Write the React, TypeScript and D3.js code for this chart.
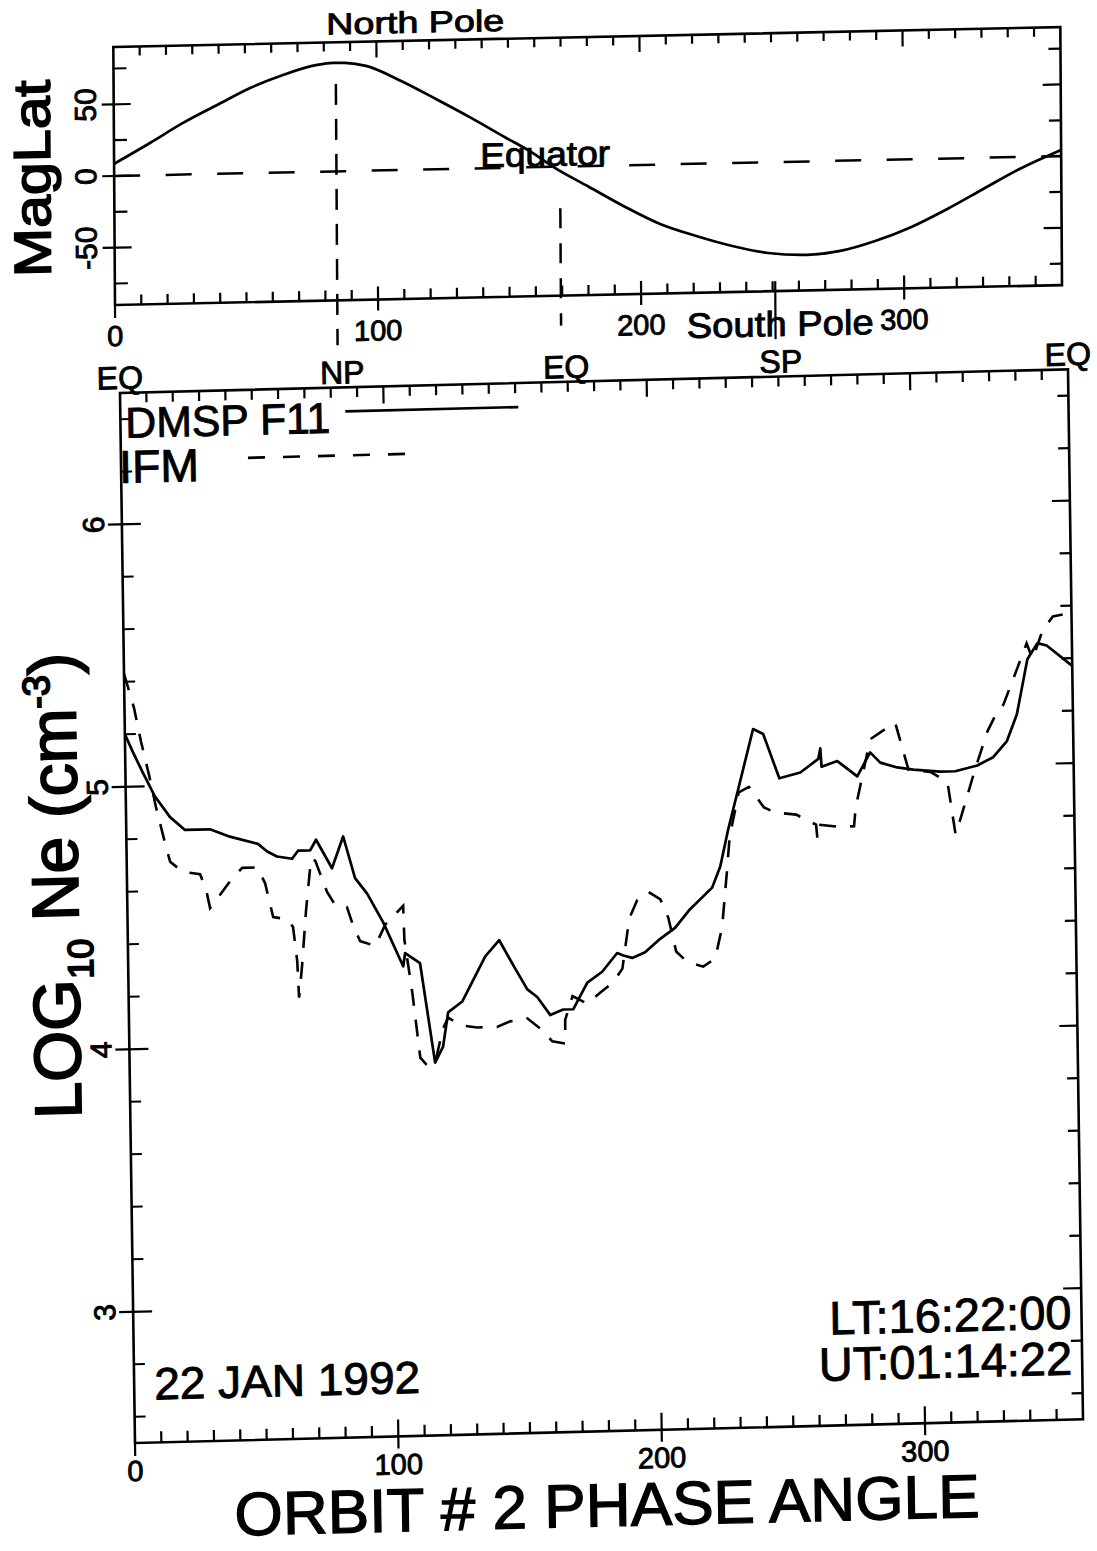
import React from "react";
import * as d3 from "d3";

// ---------- data ----------
// Top panel: magnetic latitude of the orbit track vs phase angle
const magPhase = [0, 13.7, 26.3, 39.3, 51.9, 64.4, 77.4, 83.5, 88.0, 96.0, 109.3, 122.5, 135.8, 149.1, 158.6, 166.9, 180.5, 194.2, 207.4, 221.1, 234.8, 248.4, 263.2, 275.8, 289.1, 302.9, 316.6, 330.3, 344.1, 360];
const magLat = [8.5, 22.5, 36.0, 48.0, 59.4, 68.0, 74.5, 75.7, 75.5, 73.1, 62.1, 49.0, 35.3, 20.8, 10.6, -0.1, -14.6, -29.1, -41.5, -50.4, -57.9, -63.3, -65.2, -62.9, -56.5, -47.2, -35.2, -21.8, -8.4, 4.3];

// Bottom panel: DMSP F11 (solid)
const dmspPhase = [0, 3.0, 6.7, 11.1, 16.7, 22.3, 31.8, 39.3, 49.9, 53.4, 57.1, 62.8, 65.1, 69.7, 72.0, 77.9, 82.3, 86.6, 91.1, 97.0, 104.4, 105.2, 110.8, 116.0, 119.1, 121.2, 126.6, 135.6, 141.0, 146.9, 151.4, 155.1, 160.0, 164.9, 168.7, 174.2, 179.9, 185.7, 188.0, 191.4, 196.3, 202.1, 207.8, 213.6, 222.1, 225.3, 228.5, 232.2, 238.5, 242.3, 248.2, 256.2, 263.1, 263.9, 264.3, 270.3, 277.8, 282.8, 286.6, 293.0, 299.1, 309.3, 315.0, 323.4, 329.5, 334.8, 338.7, 343.0, 346.9, 350.4, 360];
const dmspNe = [5.20, 5.13, 5.05, 4.96, 4.88, 4.83, 4.83, 4.80, 4.77, 4.74, 4.72, 4.71, 4.74, 4.74, 4.78, 4.67, 4.79, 4.63, 4.57, 4.46, 4.29, 4.34, 4.30, 3.92, 3.98, 4.11, 4.15, 4.32, 4.38, 4.27, 4.19, 4.16, 4.09, 4.11, 4.11, 4.21, 4.25, 4.32, 4.31, 4.30, 4.32, 4.37, 4.41, 4.48, 4.56, 4.64, 4.78, 4.92, 5.16, 5.14, 4.97, 4.99, 5.04, 5.08, 5.01, 5.03, 4.97, 5.06, 5.02, 5.00, 4.99, 4.98, 4.98, 5.00, 5.03, 5.09, 5.19, 5.40, 5.46, 5.45, 5.37];

// Bottom panel: IFM model (dashed)
const ifmPhase = [0, 1.4, 3.6, 6.1, 9.0, 10.0, 11.4, 14.7, 16.5, 21.3, 27.8, 30.0, 31.4, 34.5, 39.1, 43.8, 49.5, 52.4, 55.3, 60.6, 62.8, 64.2, 64.7, 66.0, 67.8, 70.0, 71.6, 75.9, 78.9, 83.4, 85.6, 88.2, 93.9, 97.8, 104.7, 105.0, 107.7, 110.4, 113.0, 116.0, 119.2, 121.2, 125.8, 132.1, 139.7, 144.7, 151.2, 156.1, 160.6, 165.5, 165.6, 168.5, 174.1, 179.0, 184.1, 187.6, 189.7, 190.9, 193.6, 197.8, 202.4, 205.3, 208.1, 212.2, 218.3, 222.9, 225.7, 227.8, 229.0, 232.7, 236.6, 238.1, 242.2, 246.6, 254.4, 261.9, 262.3, 262.7, 270.2, 276.3, 277.0, 282.9, 287.5, 292.5, 297.3, 305.6, 312.0, 314.8, 316.8, 322.7, 327.5, 330.6, 333.7, 337.7, 342.8, 345.0, 349.0, 352.9, 358.6, 360];
const ifmNe = [5.43, 5.38, 5.30, 5.17, 5.04, 4.99, 4.92, 4.78, 4.71, 4.67, 4.66, 4.60, 4.53, 4.57, 4.63, 4.68, 4.68, 4.62, 4.49, 4.48, 4.45, 4.32, 4.18, 4.30, 4.51, 4.71, 4.70, 4.58, 4.53, 4.52, 4.45, 4.39, 4.37, 4.45, 4.52, 4.39, 4.19, 3.94, 3.91, 3.92, 4.05, 4.09, 4.06, 4.05, 4.05, 4.07, 4.08, 4.04, 3.99, 3.98, 4.07, 4.16, 4.13, 4.17, 4.21, 4.26, 4.40, 4.46, 4.52, 4.55, 4.52, 4.45, 4.32, 4.28, 4.26, 4.29, 4.41, 4.62, 4.75, 4.92, 4.94, 4.92, 4.86, 4.84, 4.83, 4.79, 4.74, 4.79, 4.78, 4.78, 4.85, 5.11, 5.14, 5.17, 4.99, 4.98, 4.94, 4.74, 4.80, 4.99, 5.13, 5.19, 5.23, 5.33, 5.46, 5.40, 5.51, 5.56, 5.57, 5.57];

// markers along the orbit
const markerNames = ["EQ", "NP", "EQ", "SP", "EQ"];
const markerPhase = [0, 84.5, 169.5, 251, 360];

const xTickLabels = [0, 100, 200, 300];
const magTickLabels = [-50, 0, 50];
const neTickLabels = [3, 4, 5, 6];

// ---------- layout ----------
const W = 1097;
const H = 1551;
const FONT = "'Liberation Sans', Arial, Helvetica, sans-serif";
const T = { left: 115, right: 1062, top: 47, bottom: 305 };
const B = { left: 135, right: 1083, top: 393, bottom: 1443 };

const xT = d3.scaleLinear().domain([0, 360]).range([T.left, T.right]);
const yT = d3.scaleLinear().domain([-90, 90]).range([T.bottom, T.top]);
const xB = d3.scaleLinear().domain([0, 360]).range([B.left, B.right]);
const yB = d3.scaleLinear().domain([2.5, 6.5]).range([B.bottom, B.top]);

const SW = 2.6;
const TXT = { stroke: "#000", strokeWidth: 0.9, fill: "#000", fontFamily: FONT };

function RotText({ x, y, size, children, len }: any) {
  return (
    <text
      transform={`translate(${x},${y}) rotate(-90)`}
      textAnchor="middle"
      fontSize={size}
      textLength={len}
      lengthAdjust={len ? "spacingAndGlyphs" : undefined}
    >
      {children}
    </text>
  );
}

export default function App() {
  const magLine = d3
    .line<number>()
    .x((_, i) => xT(magPhase[i]))
    .y((d) => yT(d))
    .curve(d3.curveMonotoneX);
  const dmspLine = d3
    .line<number>()
    .x((_, i) => xB(dmspPhase[i]))
    .y((d) => yB(d));
  const ifmLine = d3
    .line<number>()
    .x((_, i) => xB(ifmPhase[i]))
    .y((d) => yB(d));

  const tens = d3.range(10, 360, 10);
  const magTicks = d3.range(-75, 76, 25);
  const neTicks = d3.range(13, 33).map((k) => k / 5);

  return (
    <svg
      width={W}
      height={H}
      viewBox={`0 0 ${W} ${H}`}
      style={{ position: "absolute", left: 0, top: 0, background: "#fff" }}
    >
      <rect x={0} y={0} width={W} height={H} fill="#fff" />
      {/* ================= TOP PANEL ================= */}
      <g transform="matrix(1,-0.021,0.0065,1,-1.98,2.415)" stroke="#000" fill="none">
        <rect x={T.left} y={T.top} width={T.right - T.left} height={T.bottom - T.top} strokeWidth={SW} />
        {tens.map((p) => (
          <line
            key={"tb" + p}
            x1={xT(p)}
            x2={xT(p)}
            y1={p % 100 === 0 ? T.bottom - 13 : T.bottom - 10}
            y2={p % 100 === 0 ? T.bottom + 11 : T.bottom}
            strokeWidth={2.2}
          />
        ))}
        <line x1={xT(0)} x2={xT(0)} y1={T.bottom} y2={T.bottom + 13} strokeWidth={2.2} />
        {tens.map((p) => (
          <line
            key={"tt" + p}
            x1={xT(p)}
            x2={xT(p)}
            y1={T.top}
            y2={p % 100 === 0 ? T.top + 16 : T.top + 9}
            strokeWidth={2.2}
          />
        ))}
        {magTicks.map((v) => (
          <g key={"ty" + v}>
            <line
              x1={v % 50 === 0 ? T.left - 12 : T.left}
              x2={v % 50 === 0 ? T.left + 17 : T.left + 13}
              y1={yT(v)}
              y2={yT(v)}
              strokeWidth={2.2}
            />
            <line
              x1={T.right}
              x2={v % 50 === 0 ? T.right - 18 : T.right - 12}
              y1={yT(v)}
              y2={yT(v)}
              strokeWidth={2.2}
            />
          </g>
        ))}
        {/* equator dashed line */}
        <line x1={xT(0)} x2={xT(360)} y1={yT(0)} y2={yT(0)} strokeWidth={2.5} strokeDasharray="26,25.5" />
        {/* pole / equator markers */}
        <line x1={xT(markerPhase[1])} x2={xT(markerPhase[1])} y1={yT(61)} y2={T.bottom + 45} strokeWidth={2.5} strokeDasharray="21,14" />
        <line x1={xT(markerPhase[2])} x2={xT(markerPhase[2])} y1={yT(-29)} y2={T.bottom + 30} strokeWidth={2.5} strokeDasharray="20,15" />
        <line x1={xT(markerPhase[3])} x2={xT(markerPhase[3])} y1={T.bottom - 10} y2={T.bottom + 48} strokeWidth={2.2} />
        {/* orbit track */}
        <path d={magLine(magLat) || ""} strokeWidth={2.7} />
        <g {...TXT}>
          <text x={417} y={39} fontSize={30} textAnchor="middle" textLength={178} lengthAdjust="spacingAndGlyphs">
            North Pole
          </text>
          <text x={481} y={yT(0) - 1} fontSize={34} textLength={130} lengthAdjust="spacingAndGlyphs">
            Equator
          </text>
          <text x={780} y={T.bottom + 45} fontSize={35} textAnchor="middle" textLength={187} lengthAdjust="spacingAndGlyphs">
            South Pole
          </text>
          {xTickLabels.map((p) => (
            <text key={"xl" + p} x={xT(p)} y={T.bottom + 41} fontSize={29} textAnchor="middle">
              {p}
            </text>
          ))}
          {magTickLabels.map((v) => (
            <RotText key={"yl" + v} x={T.left - 18} y={yT(v)} size={30}>
              {v}
            </RotText>
          ))}
          <g strokeWidth={1.6}>
            <RotText x={51} y={177} size={52} len={197}>
              MagLat
            </RotText>
          </g>
        </g>
      </g>

      {/* ================= BOTTOM PANEL ================= */}
      <g transform="matrix(1,-0.025,0.0143,1,-20.63,3.375)" stroke="#000" fill="none">
        <rect x={B.left} y={B.top} width={B.right - B.left} height={B.bottom - B.top} strokeWidth={SW} />
        {tens.map((p) => (
          <g key={"bb" + p}>
            <line
              x1={xB(p)}
              x2={xB(p)}
              y1={p % 100 === 0 ? B.bottom - 17 : B.bottom - 11}
              y2={p % 100 === 0 ? B.bottom + 12 : B.bottom}
              strokeWidth={2.2}
            />
            <line
              x1={xB(p)}
              x2={xB(p)}
              y1={B.top}
              y2={p % 100 === 0 ? B.top + 17 : B.top + 10}
              strokeWidth={2.2}
            />
          </g>
        ))}
        <line x1={xB(0)} x2={xB(0)} y1={B.bottom} y2={B.bottom + 13} strokeWidth={2.2} />
        {neTicks.map((v) => {
          const major = Math.abs(v - Math.round(v)) < 1e-6;
          return (
            <g key={"by" + v}>
              <line x1={major ? B.left - 14 : B.left} x2={major ? B.left + 19 : B.left + 11} y1={yB(v)} y2={yB(v)} strokeWidth={2.2} />
              <line x1={B.right} x2={major ? B.right - 18 : B.right - 11} y1={yB(v)} y2={yB(v)} strokeWidth={2.2} />
            </g>
          );
        })}
        {/* data */}
        <path d={ifmLine(ifmNe) || ""} strokeWidth={2.6} strokeDasharray="17,14" />
        <path d={dmspLine(dmspNe) || ""} strokeWidth={2.7} strokeLinejoin="round" />
        {/* legend lines */}
        <line x1={360} x2={533} y1={417} y2={417} strokeWidth={2.7} />
        <line x1={262} x2={436} y1={461} y2={461} strokeWidth={2.6} strokeDasharray="17,18" />
        <g {...TXT}>
          {markerNames.map((n, i) => (
            <text key={"mk" + i} x={xB(markerPhase[i])} y={B.top - 4} fontSize={32} textAnchor="middle">
              {n}
            </text>
          ))}
          {xTickLabels.map((p) => (
            <text key={"bxl" + p} x={xB(p)} y={B.bottom + 38} fontSize={29} textAnchor="middle">
              {p}
            </text>
          ))}
          {neTickLabels.map((v) => (
            <RotText key={"byl" + v} x={B.left - 18} y={yB(v)} size={30}>
              {v}
            </RotText>
          ))}
          <text x={140} y={438} fontSize={43} textLength={205} lengthAdjust="spacingAndGlyphs">
            DMSP F11
          </text>
          <text x={133} y={483} fontSize={46} textLength={80} lengthAdjust="spacingAndGlyphs">
            IFM
          </text>
          <text x={155} y={1400} fontSize={45} textLength={266} lengthAdjust="spacingAndGlyphs">
            22 JAN 1992
          </text>
          <text x={1073} y={1352} fontSize={47} textAnchor="end">
            LT:16:22:00
          </text>
          <text x={1073} y={1398} fontSize={47} textAnchor="end">
            UT:01:14:22
          </text>
          <text x={606} y={1538} fontSize={61} textAnchor="middle" textLength={745} lengthAdjust="spacingAndGlyphs" strokeWidth={1.3}>
            ORBIT # 2 PHASE ANGLE
          </text>
          <text transform="translate(86,884) rotate(-90)" textAnchor="middle" fontSize={66} strokeWidth={1.8}>
            LOG
            <tspan fontSize={36} dy={14}>10</tspan>
            <tspan dy={-14}>{"  Ne (cm"}</tspan>
            <tspan fontSize={38} dy={-26}>-3</tspan>
            <tspan dy={26}>)</tspan>
          </text>
        </g>
      </g>
    </svg>
  );
}
